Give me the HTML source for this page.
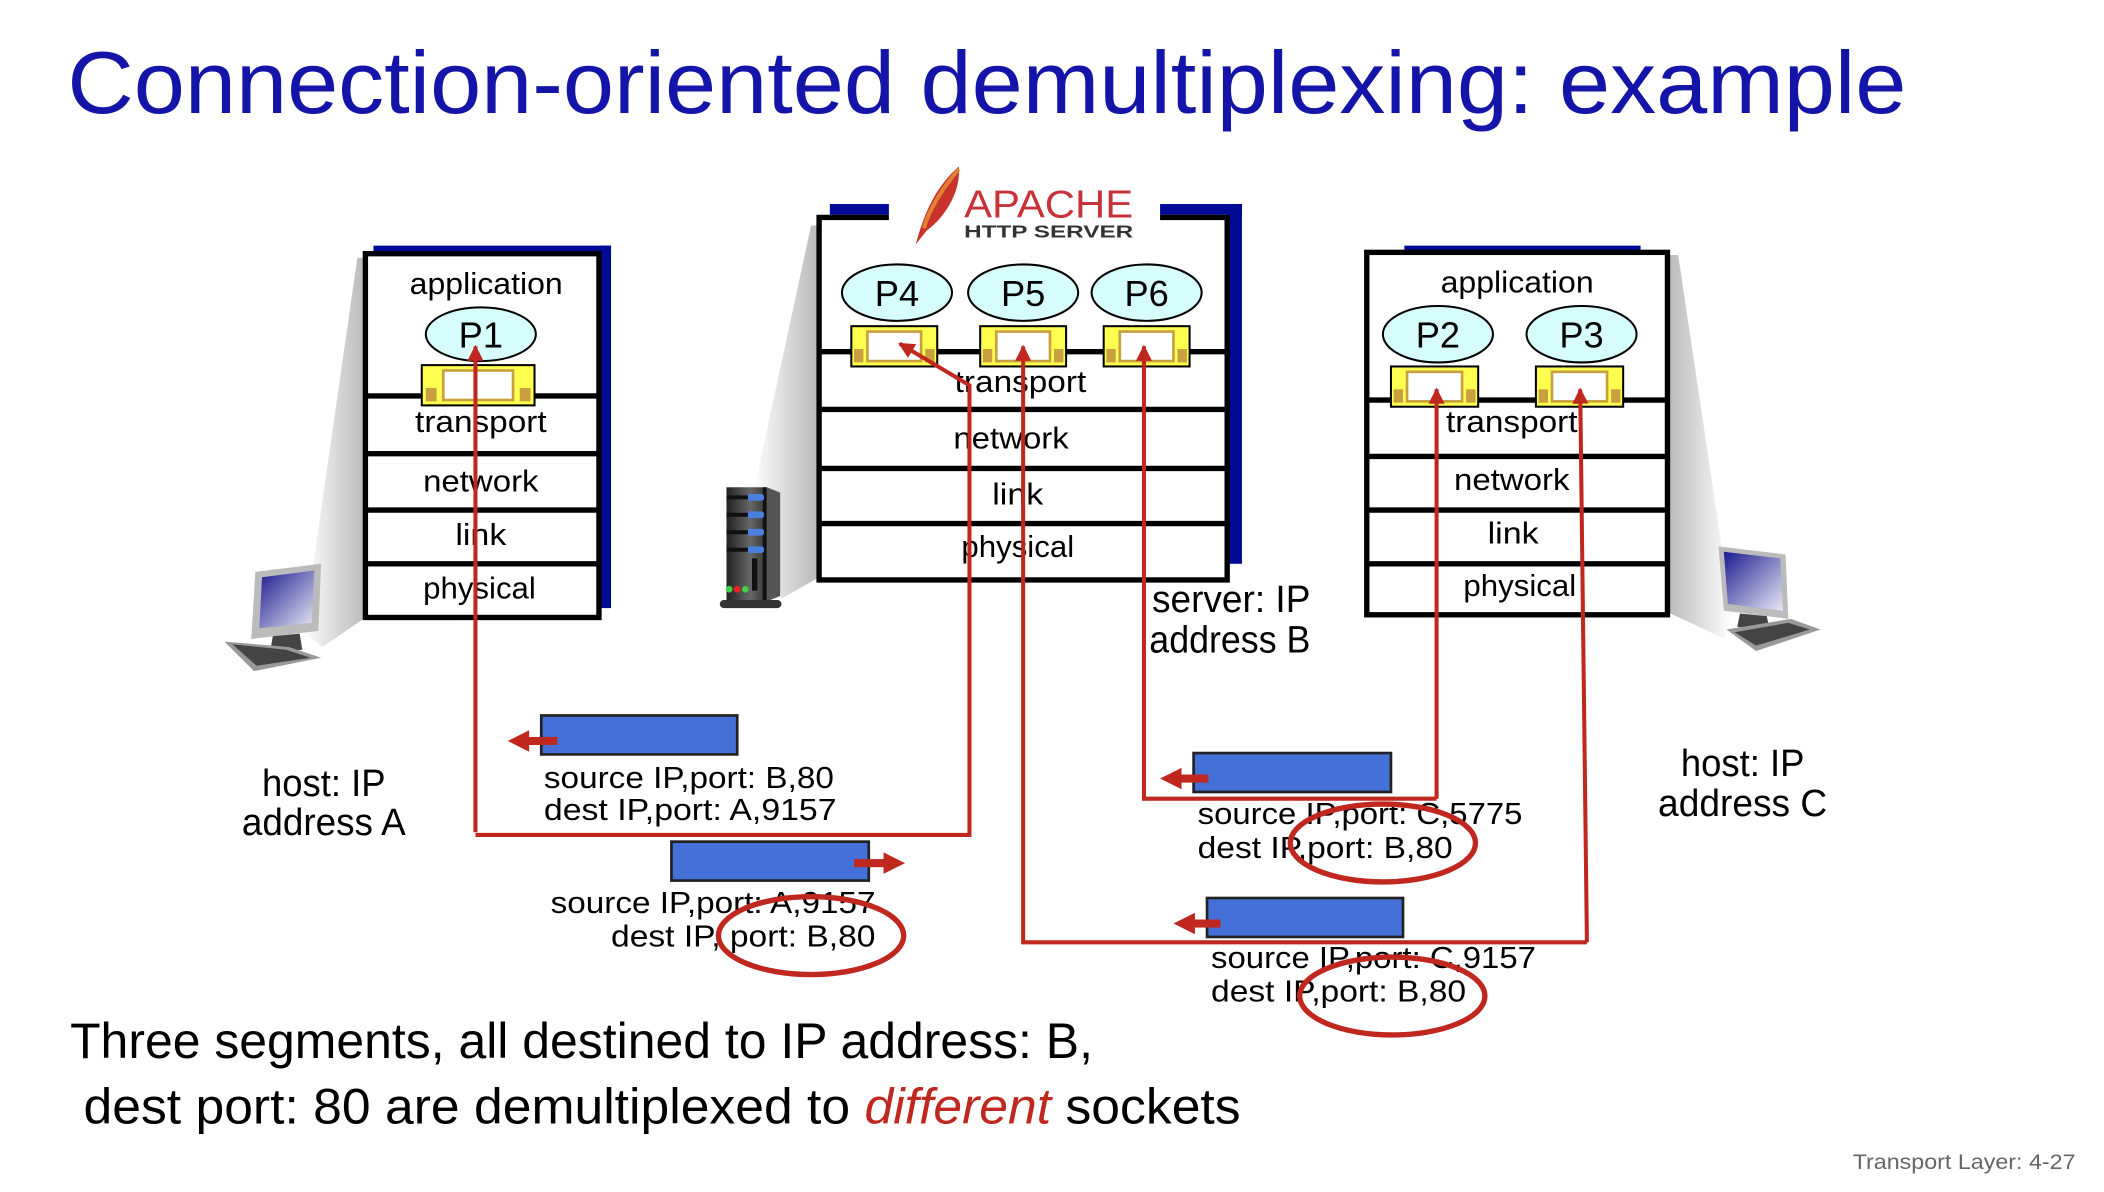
<!DOCTYPE html>
<html><head><meta charset="utf-8"><style>
html,body{margin:0;padding:0;background:#fff;}
svg{display:block;}
text{font-family:"Liberation Sans",sans-serif;}
</style></head><body>
<svg width="2104" height="1192" viewBox="0 0 1567 888" xmlns="http://www.w3.org/2000/svg">
<defs>
<linearGradient id="sh" x1="0" x2="1" y1="0" y2="0"><stop offset="0" stop-color="#fff"/><stop offset="1" stop-color="#b8b8b8"/></linearGradient>
<linearGradient id="sh2" x1="1" x2="0" y1="0" y2="0"><stop offset="0" stop-color="#fff"/><stop offset="1" stop-color="#b8b8b8"/></linearGradient>
<linearGradient id="scr" x1="0" y1="0" x2="1" y2="1"><stop offset="0" stop-color="#1a1a90"/><stop offset="1" stop-color="#e8e8f4"/></linearGradient>
<linearGradient id="srv" x1="0" x2="1"><stop offset="0" stop-color="#222"/><stop offset="0.6" stop-color="#666"/><stop offset="1" stop-color="#333"/></linearGradient>
<marker id="ah" viewBox="0 0 10 10" refX="9" refY="5" markerWidth="4" markerHeight="4" orient="auto"><path d="M0,0L10,5L0,10z" fill="#c0271f"/></marker>
</defs>

<text x="50" y="84" font-size="66" fill="#1414a8" textLength="1370" lengthAdjust="spacingAndGlyphs">Connection-oriented demultiplexing: example</text>

<polygon points="266,192 272,192 272,460 240,482 226,470" fill="url(#sh)"/>
<polygon points="604,168 610,168 610,430 582,446 560,372" fill="url(#sh)"/>
<polygon points="1242,190 1250,190 1290,458 1285,476 1242,456" fill="url(#sh2)"/>

<rect x="278" y="183" width="177" height="6" fill="#000a96"/>
<rect x="446" y="183" width="9" height="270" fill="#000a96"/>
<rect x="272" y="189" width="174" height="271" fill="#fff" stroke="#000" stroke-width="4"/>
<g stroke="#000" stroke-width="4"><line x1="272" y1="295" x2="446" y2="295"/><line x1="272" y1="338" x2="446" y2="338"/><line x1="272" y1="380" x2="446" y2="380"/><line x1="272" y1="420" x2="446" y2="420"/></g>
<g font-size="23" text-anchor="middle" fill="#000">
<text x="362" y="219" textLength="114" lengthAdjust="spacingAndGlyphs">application</text>
<text x="358" y="322" textLength="98" lengthAdjust="spacingAndGlyphs">transport</text>
<text x="358" y="366" textLength="86" lengthAdjust="spacingAndGlyphs">network</text>
<text x="358" y="406" textLength="38" lengthAdjust="spacingAndGlyphs">link</text>
<text x="357" y="446" textLength="84" lengthAdjust="spacingAndGlyphs">physical</text>
</g>
<ellipse cx="358" cy="249" rx="41" ry="20" fill="#d6fcfc" stroke="#000" stroke-width="1.5"/>
<text x="358" y="259" font-size="27" text-anchor="middle">P1</text>

<rect x="618" y="152" width="44" height="8" fill="#000a96"/>
<rect x="864" y="152" width="61" height="8" fill="#000a96"/>
<rect x="914" y="152" width="11" height="268" fill="#000a96"/>
<rect x="610" y="162" width="304" height="270" fill="#fff"/>
<g stroke="#000" stroke-width="4" fill="none">
<polyline points="662,162 610,162 610,432 914,432 914,162 864,162"/>
<line x1="610" y1="262" x2="914" y2="262"/><line x1="610" y1="305" x2="914" y2="305"/><line x1="610" y1="349" x2="914" y2="349"/><line x1="610" y1="390" x2="914" y2="390"/></g>
<g font-size="23" text-anchor="middle">
<text x="760" y="292" textLength="98" lengthAdjust="spacingAndGlyphs">transport</text>
<text x="753" y="334" textLength="86" lengthAdjust="spacingAndGlyphs">network</text>
<text x="758" y="376" textLength="38" lengthAdjust="spacingAndGlyphs">link</text>
<text x="758" y="415" textLength="84" lengthAdjust="spacingAndGlyphs">physical</text>
</g>
<g fill="#d6fcfc" stroke="#000" stroke-width="1.5">
<ellipse cx="668" cy="218" rx="41" ry="21"/><ellipse cx="762" cy="218" rx="41" ry="21"/><ellipse cx="854" cy="218" rx="41" ry="21"/></g>
<g font-size="27" text-anchor="middle"><text x="668" y="228">P4</text><text x="762" y="228">P5</text><text x="854" y="228">P6</text></g>
<path d="M682,182 C688,160 696,140 714,124 C716,140 706,160 690,172 Z" fill="#c8322a"/>
<path d="M688,170 C692,156 702,140 714,126" stroke="#e08030" stroke-width="3" fill="none"/>
<text x="718" y="162" font-size="29" fill="#c8323a" textLength="126" lengthAdjust="spacingAndGlyphs">APACHE</text>
<text x="718" y="177" font-size="13" font-weight="bold" fill="#333" textLength="126" lengthAdjust="spacingAndGlyphs">HTTP SERVER</text>
<g>
<rect x="541" y="363" width="30" height="85" fill="url(#srv)"/>
<polygon points="571,363 581,367 581,444 571,448" fill="#555"/>
<rect x="568" y="363" width="3" height="84" fill="#111"/>
<g fill="#4a7fe0"><rect x="556" y="368" width="13" height="5" rx="2"/><rect x="556" y="381" width="13" height="5" rx="2"/><rect x="556" y="394" width="13" height="5" rx="2"/><rect x="556" y="407" width="13" height="5" rx="2"/></g>
<g fill="#111"><rect x="541" y="369" width="16" height="3"/><rect x="541" y="382" width="16" height="3"/><rect x="541" y="395" width="16" height="3"/><rect x="541" y="408" width="16" height="3"/></g>
<rect x="560" y="416" width="4" height="24" fill="#111"/>
<circle cx="543" cy="439" r="2.5" fill="#4c4"/><circle cx="549" cy="439" r="2.5" fill="#e22"/><circle cx="555" cy="439" r="2.5" fill="#4c4"/>
<rect x="536" y="447" width="46" height="6" rx="3" fill="#333"/>
</g>

<rect x="1046" y="183" width="176" height="5" fill="#000a96"/>
<rect x="1018" y="188" width="224" height="270" fill="#fff" stroke="#000" stroke-width="4"/>
<g stroke="#000" stroke-width="4"><line x1="1018" y1="298" x2="1242" y2="298"/><line x1="1018" y1="340" x2="1242" y2="340"/><line x1="1018" y1="380" x2="1242" y2="380"/><line x1="1018" y1="420" x2="1242" y2="420"/></g>
<g font-size="23" text-anchor="middle">
<text x="1130" y="218" textLength="114" lengthAdjust="spacingAndGlyphs">application</text>
<text x="1126" y="322" textLength="98" lengthAdjust="spacingAndGlyphs">transport</text>
<text x="1126" y="365" textLength="86" lengthAdjust="spacingAndGlyphs">network</text>
<text x="1127" y="405" textLength="38" lengthAdjust="spacingAndGlyphs">link</text>
<text x="1132" y="444" textLength="84" lengthAdjust="spacingAndGlyphs">physical</text>
</g>
<g fill="#d6fcfc" stroke="#000" stroke-width="1.5"><ellipse cx="1071" cy="249" rx="41" ry="21"/><ellipse cx="1178" cy="249" rx="41" ry="21"/></g>
<g font-size="27" text-anchor="middle"><text x="1071" y="259">P2</text><text x="1178" y="259">P3</text></g>

<g>
<g><rect x="314" y="272" width="84" height="30" fill="#ffff50" stroke="#000" stroke-width="1.5"/><rect x="330" y="276" width="52" height="22" fill="#fff" stroke="#c8a040" stroke-width="2"/><rect x="317" y="289" width="8" height="10" fill="#c8a040"/><rect x="387" y="289" width="8" height="10" fill="#c8a040"/></g>
<g><rect x="634" y="243" width="64" height="30" fill="#ffff50" stroke="#000" stroke-width="1.5"/><rect x="646" y="247" width="40" height="22" fill="#fff" stroke="#c8a040" stroke-width="2"/><rect x="636" y="260" width="7" height="10" fill="#c8a040"/><rect x="689" y="260" width="7" height="10" fill="#c8a040"/></g>
<g><rect x="730" y="243" width="64" height="30" fill="#ffff50" stroke="#000" stroke-width="1.5"/><rect x="742" y="247" width="40" height="22" fill="#fff" stroke="#c8a040" stroke-width="2"/><rect x="732" y="260" width="7" height="10" fill="#c8a040"/><rect x="785" y="260" width="7" height="10" fill="#c8a040"/></g>
<g><rect x="822" y="243" width="64" height="30" fill="#ffff50" stroke="#000" stroke-width="1.5"/><rect x="834" y="247" width="40" height="22" fill="#fff" stroke="#c8a040" stroke-width="2"/><rect x="824" y="260" width="7" height="10" fill="#c8a040"/><rect x="877" y="260" width="7" height="10" fill="#c8a040"/></g>
<g><rect x="1036" y="273" width="65" height="30" fill="#ffff50" stroke="#000" stroke-width="1.5"/><rect x="1048" y="277" width="41" height="22" fill="#fff" stroke="#c8a040" stroke-width="2"/><rect x="1038" y="290" width="7" height="10" fill="#c8a040"/><rect x="1092" y="290" width="7" height="10" fill="#c8a040"/></g>
<g><rect x="1144" y="273" width="65" height="30" fill="#ffff50" stroke="#000" stroke-width="1.5"/><rect x="1156" y="277" width="41" height="22" fill="#fff" stroke="#c8a040" stroke-width="2"/><rect x="1146" y="290" width="7" height="10" fill="#c8a040"/><rect x="1200" y="290" width="7" height="10" fill="#c8a040"/></g>
</g>

<g transform="translate(165,418)">
<polygon points="25,8 74,2 72,52 22,58" fill="#bbb"/>
<polygon points="30,12 69,7 67,46 28,50" fill="url(#scr)"/>
<polygon points="38,56 58,54 60,66 36,68" fill="#444"/>
<polygon points="2,60 50,64 74,72 24,82" fill="#999"/>
<polygon points="8,62 48,66 66,72 26,78" fill="#444"/>
</g>
<g transform="translate(1278,405)">
<polygon points="2,2 52,8 54,56 6,50" fill="#bbb"/>
<polygon points="6,6 48,11 50,50 9,45" fill="url(#scr)"/>
<polygon points="18,52 38,54 40,64 16,62" fill="#444"/>
<polygon points="8,64 56,56 78,64 30,80" fill="#999"/>
<polygon points="14,66 54,59 70,64 30,76" fill="#444"/>
</g>

<g font-size="28">
<text x="858" y="456" textLength="118" lengthAdjust="spacingAndGlyphs">server: IP</text>
<text x="856" y="486" textLength="120" lengthAdjust="spacingAndGlyphs">address B</text>
<text x="241" y="593" text-anchor="middle" textLength="92" lengthAdjust="spacingAndGlyphs">host: IP</text>
<text x="241" y="622" text-anchor="middle" textLength="122" lengthAdjust="spacingAndGlyphs">address A</text>
<text x="1298" y="578" text-anchor="middle" textLength="92" lengthAdjust="spacingAndGlyphs">host: IP</text>
<text x="1298" y="608" text-anchor="middle" textLength="126" lengthAdjust="spacingAndGlyphs">address C</text>
</g>

<g stroke="#c0271f" stroke-width="3" fill="none">
<polyline points="354,620 354,258" marker-end="url(#ah)"/>
<polyline points="354,622 722,622 722,287 670,256" marker-end="url(#ah)"/>
<polyline points="1182,702 762,702 762,258" marker-end="url(#ah)"/>
<polyline points="1182,702 1177,290" marker-end="url(#ah)"/>
<polyline points="1070,595 852,595 852,258" marker-end="url(#ah)"/>
<polyline points="1070,595 1070,290" marker-end="url(#ah)"/>
</g>

<g fill="#4470d8" stroke="#222" stroke-width="2">
<rect x="403" y="533" width="146" height="29"/>
<rect x="500" y="627" width="147" height="29"/>
<rect x="889" y="561" width="147" height="29"/>
<rect x="899" y="669" width="146" height="29"/>
</g>
<g fill="#c0271f">
<rect x="392" y="549" width="23" height="6"/><polygon points="378,552 394,544 394,560"/>
<rect x="636" y="640" width="24" height="6"/><polygon points="674,643 658,635 658,651"/>
<rect x="878" y="577" width="22" height="6"/><polygon points="864,580 880,572 880,588"/>
<rect x="888" y="685" width="21" height="6"/><polygon points="874,688 890,680 890,696"/>
</g>
<g font-size="23">
<text x="405" y="587" textLength="216" lengthAdjust="spacingAndGlyphs">source IP,port: B,80</text>
<text x="405" y="611" textLength="218" lengthAdjust="spacingAndGlyphs">dest IP,port: A,9157</text>
<text x="410" y="680" textLength="242" lengthAdjust="spacingAndGlyphs">source IP,port: A,9157</text>
<text x="455" y="705" textLength="197" lengthAdjust="spacingAndGlyphs">dest IP, port: B,80</text>
<text x="892" y="614" textLength="242" lengthAdjust="spacingAndGlyphs">source IP,port: C,5775</text>
<text x="892" y="639" textLength="190" lengthAdjust="spacingAndGlyphs">dest IP,port: B,80</text>
<text x="902" y="721" textLength="242" lengthAdjust="spacingAndGlyphs">source IP,port: C,9157</text>
<text x="902" y="746" textLength="190" lengthAdjust="spacingAndGlyphs">dest IP,port: B,80</text>
</g>
<g fill="none" stroke="#c0271f" stroke-width="4">
<ellipse cx="604" cy="697" rx="69" ry="29"/>
<ellipse cx="1030" cy="628" rx="69" ry="29"/>
<ellipse cx="1037" cy="742" rx="69" ry="29"/>
</g>

<text x="52" y="788" font-size="37" textLength="762" lengthAdjust="spacingAndGlyphs">Three segments, all destined to IP address: B,</text>
<text x="62" y="837" font-size="37" textLength="862" lengthAdjust="spacingAndGlyphs">dest port: 80 are demultiplexed to <tspan fill="#c0271f" font-style="italic">different</tspan> sockets</text>
<text x="1380" y="871" font-size="16" fill="#666" textLength="166" lengthAdjust="spacingAndGlyphs">Transport Layer: 4-27</text>
</svg>
</body></html>
